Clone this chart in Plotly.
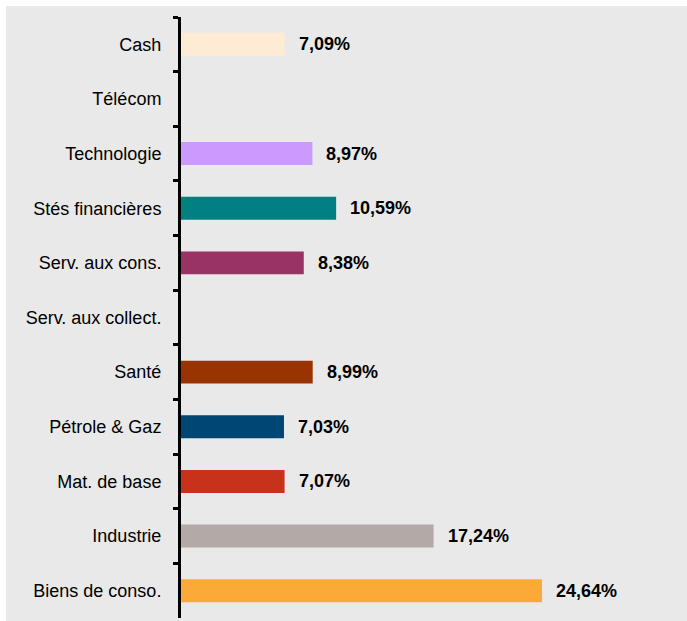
import plotly.graph_objects as go

categories = ["Cash", "Télécom", "Technologie", "Stés financières", "Serv. aux cons.",
              "Serv. aux collect.", "Santé", "Pétrole & Gaz", "Mat. de base",
              "Industrie", "Biens de conso."]
values = [7.09, 0, 8.97, 10.59, 8.38, 0, 8.99, 7.03, 7.07, 17.24, 24.64]
colors = ["#FDEBD3", "#FFFFFF", "#CC99FF", "#008080", "#993366", "#FFFFFF",
          "#993300", "#004675", "#C8311A", "#B3A9A6", "#FCAA37"]

W, H = 687, 621
ml, mr, mt, mb = 181, 7, 17, 3
pw, ph = W - ml - mr, H - mt - mb

fig = go.Figure()
fig.add_trace(go.Bar(
    y=categories, x=values, orientation="h",
    marker=dict(color=colors, line=dict(width=0)),
    width=0.42, hoverinfo="skip",
))

for c, v in zip(categories, values):
    if v > 0:
        fig.add_annotation(x=v, y=c, xref="x", yref="y",
                           text=f"{v:.2f}".replace(".", ",") + "%",
                           showarrow=False, xanchor="left", xshift=12,
                           font=dict(family="Liberation Sans, Arial", size=18,
                                     color="black", weight="bold"))

# white border strips on the top and left of the grey panel
fig.add_shape(type="rect", xref="paper", yref="paper", layer="below",
              x0=-ml / pw - 0.01, x1=(6 - ml) / pw,
              y0=-(mb + 5) / ph, y1=(H - mb + 5) / ph,
              fillcolor="white", line=dict(width=0))
fig.add_shape(type="rect", xref="paper", yref="paper", layer="below",
              x0=-ml / pw - 0.01, x1=(W + 5 - ml) / pw,
              y0=(H - mb - 6) / ph, y1=(H - mb + 5) / ph,
              fillcolor="white", line=dict(width=0))

fig.update_layout(
    width=W, height=H,
    margin=dict(l=ml, r=mr, t=mt, b=mb),
    paper_bgcolor="#E9E9E9", plot_bgcolor="rgba(0,0,0,0)",
    showlegend=False,
    font=dict(family="Liberation Sans, Arial", size=18, color="black"),
    xaxis=dict(range=[0, pw / 14.65], visible=False, fixedrange=True),
    yaxis=dict(type="category", categoryorder="array", categoryarray=categories,
               autorange="reversed", showline=True, linecolor="black", linewidth=3,
               ticks="outside", tickson="boundaries", ticklen=5, tickwidth=3,
               tickcolor="black", showgrid=False, zeroline=False,
               ticklabelstandoff=13, tickfont=dict(size=18), fixedrange=True),
)

fig.write_html("out.html", config={"displayModeBar": False},
               post_script="document.body.style.margin='0';document.body.style.overflow='hidden';")
